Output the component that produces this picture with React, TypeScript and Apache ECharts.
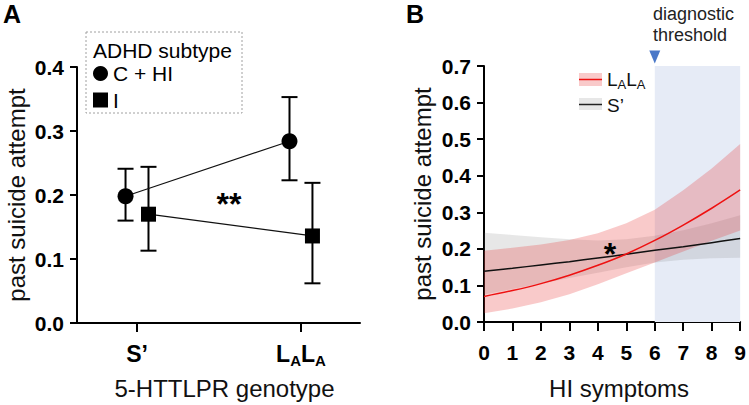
import React, { useEffect, useRef } from "react";
import * as echarts from "echarts";

// ---------- Panel A data ----------
const genotypes = ["S’", "LALA"];
const subtypes = ["C + HI", "I"];
const combinedMean = [0.198, 0.284];
const combinedLow = [0.16, 0.223];
const combinedHigh = [0.241, 0.353];
const inattMean = [0.17, 0.136];
const inattLow = [0.113, 0.062];
const inattHigh = [0.244, 0.219];
const yTicksA = [0, 0.1, 0.2, 0.3, 0.4];

// ---------- Panel B data ----------
const hiSymptoms = [0, 1, 2, 3, 4, 5, 6, 7, 8, 9];
const laMean = [0.07, 0.086, 0.105, 0.128, 0.155, 0.186, 0.223, 0.265, 0.311, 0.361];
const laLower = [0.024, 0.037, 0.054, 0.076, 0.103, 0.133, 0.163, 0.193, 0.222, 0.25];
const laUpper = [0.195, 0.203, 0.212, 0.224, 0.243, 0.27, 0.307, 0.36, 0.42, 0.487];
const sMean = [0.139, 0.147, 0.156, 0.165, 0.175, 0.185, 0.196, 0.206, 0.217, 0.228];
const sLower = [0.075, 0.09, 0.105, 0.12, 0.135, 0.15, 0.163, 0.17, 0.174, 0.176];
const sUpper = [0.244, 0.238, 0.232, 0.226, 0.223, 0.226, 0.236, 0.251, 0.27, 0.292];
const diagnosticThreshold = 6;
const yMaxB = 0.7;

const FONT = "'Liberation Sans', Arial, Helvetica, sans-serif";
const dodge = 0.07;
const PINK = "rgba(232,45,45,0.25)";
const GREY = "rgba(110,110,110,0.17)";

const richLabel = (n: string, tag: string) =>
  n === "LALA" ? `{${tag}|L}{s|A}{${tag}|L}{s|A}` : `{${tag}|${n}}`;

export default function App() {
  const ref = useRef<HTMLDivElement>(null);

  useEffect(() => {
    if (!ref.current) return;
    const chart = echarts.init(ref.current, undefined, { renderer: "svg" });

    const axisLine = { show: true, onZero: false, lineStyle: { color: "#000", width: 2 } };
    const tick = (len: number) => ({ show: true, inside: false, length: len, lineStyle: { color: "#000", width: 2 } });
    const tickLabel = {
      color: "#000",
      fontFamily: FONT,
      fontWeight: "bold" as const,
      fontSize: 21,
    };
    const nameStyle = { color: "#111", fontFamily: FONT, fontSize: 24 };

    const errData = (xs: number[], lo: number[], hi: number[]) =>
      xs.map((x, i) => [x, lo[i], hi[i]]);

    const renderErr = (params: any, api: any) => {
      const x = api.value(0);
      const top = api.coord([x, api.value(2)]);
      const bot = api.coord([x, api.value(1)]);
      const cap = 8;
      const st = { stroke: "#000", lineWidth: 2 };
      return {
        type: "group",
        children: [
          { type: "line", shape: { x1: top[0], y1: top[1], x2: bot[0], y2: bot[1] }, style: st },
          { type: "line", shape: { x1: top[0] - cap, y1: top[1], x2: top[0] + cap, y2: top[1] }, style: st },
          { type: "line", shape: { x1: bot[0] - cap, y1: bot[1], x2: bot[0] + cap, y2: bot[1] }, style: st },
        ],
      };
    };

    const renderBand = (lower: number[], upper: number[], fill: string) => (params: any, api: any) => {
      if (params.dataIndex !== 0) return null;
      const top = hiSymptoms.map((x, i) => api.coord([x, upper[i]]));
      const bot = hiSymptoms.map((x, i) => api.coord([x, lower[i]])).reverse();
      return { type: "polygon", shape: { points: top.concat(bot) }, style: { fill } };
    };

    const genoIdx = genotypes.map((_, i) => i);
    const xC = genoIdx.map((i) => i - dodge);
    const xI = genoIdx.map((i) => i + dodge);

    const option: any = {
      animation: false,
      textStyle: { fontFamily: FONT },
      grid: [
        { left: 77, top: 67, width: 283, height: 258 },
        { left: 484, top: 66, width: 259, height: 258 },
      ],
      legend: [
        {
          orient: "vertical",
          left: 93,
          top: 63,
          padding: 0,
          itemWidth: 15,
          itemHeight: 15,
          itemGap: 5.5,
          itemStyle: { borderWidth: 0 },
          textStyle: { fontSize: 21, color: "#000", fontFamily: FONT },
          data: [
            { name: subtypes[0], icon: "circle" },
            { name: subtypes[1], icon: "rect" },
          ],
          selectedMode: false,
        },
      ],
      xAxis: [
        {
          gridIndex: 0,
          type: "value",
          min: -0.366,
          max: 1.36,
          axisLine,
          axisTick: { ...tick(9), customValues: genoIdx },
          axisLabel: {
            customValues: genoIdx,
            margin: 17,
            formatter: (v: number) => richLabel(genotypes[Math.round(v)], "b"),
            rich: {
              b: { ...tickLabel, fontSize: 23, lineHeight: 28 },
              s: { ...tickLabel, fontSize: 15, lineHeight: 15, padding: [13, 0, 0, 0] },
            },
          },
          splitLine: { show: false },
          name: "5-HTTLPR genotype",
          nameLocation: "middle",
          nameGap: 53,
          nameTextStyle: { ...nameStyle, padding: [0, 0, 0, 12] },
        },
        {
          gridIndex: 1,
          type: "value",
          min: 0,
          max: 9,
          interval: 1,
          axisLine,
          axisTick: tick(9),
          axisLabel: { ...tickLabel, margin: 20 },
          splitLine: { show: false },
          name: "HI symptoms",
          nameLocation: "middle",
          nameGap: 54,
          nameTextStyle: { ...nameStyle, padding: [0, 0, 0, 14] },
        },
      ],
      yAxis: [
        {
          gridIndex: 0,
          type: "value",
          min: yTicksA[0],
          max: yTicksA[yTicksA.length - 1],
          interval: 0.1,
          axisLine,
          axisTick: tick(7),
          axisLabel: { ...tickLabel, margin: 13, formatter: (v: number) => v.toFixed(1) },
          splitLine: { show: false },
          name: "past suicide attempt",
          nameLocation: "middle",
          nameGap: 49,
          nameRotate: 90,
          nameTextStyle: nameStyle,
        },
        {
          gridIndex: 1,
          type: "value",
          min: 0,
          max: yMaxB,
          interval: 0.1,
          axisLine,
          axisTick: tick(7),
          axisLabel: { ...tickLabel, margin: 13, formatter: (v: number) => v.toFixed(1) },
          splitLine: { show: false },
          name: "past suicide attempt",
          nameLocation: "middle",
          nameGap: 50,
          nameRotate: 90,
          nameTextStyle: nameStyle,
        },
      ],
      series: [
        // ---- Panel A ----
        {
          type: "custom",
          name: "errC",
          xAxisIndex: 0,
          yAxisIndex: 0,
          z: 2,
          renderItem: renderErr,
          data: errData(xC, combinedLow, combinedHigh),
          silent: true,
        },
        {
          type: "custom",
          name: "errI",
          xAxisIndex: 0,
          yAxisIndex: 0,
          z: 2,
          renderItem: renderErr,
          data: errData(xI, inattLow, inattHigh),
          silent: true,
        },
        {
          type: "line",
          name: subtypes[0],
          xAxisIndex: 0,
          yAxisIndex: 0,
          z: 3,
          symbol: "circle",
          symbolSize: 16,
          itemStyle: { color: "#000" },
          lineStyle: { color: "#111", width: 1.2 },
          data: xC.map((x, i) => [x, combinedMean[i]]),
        },
        {
          type: "line",
          name: subtypes[1],
          xAxisIndex: 0,
          yAxisIndex: 0,
          z: 3,
          symbol: "rect",
          symbolSize: 15,
          itemStyle: { color: "#000" },
          lineStyle: { color: "#111", width: 1.2 },
          data: xI.map((x, i) => [x, inattMean[i]]),
        },
        // ---- Panel B ----
        {
          type: "line",
          name: "threshold",
          xAxisIndex: 1,
          yAxisIndex: 1,
          z: 0,
          data: [],
          silent: true,
          markArea: {
            silent: true,
            itemStyle: { color: "#e6ebf6" },
            data: [[{ xAxis: diagnosticThreshold, yAxis: 0 }, { xAxis: hiSymptoms[hiSymptoms.length - 1], yAxis: yMaxB }]],
          },
          markPoint: {
            silent: true,
            data: [
              {
                coord: [diagnosticThreshold, yMaxB],
                symbol: "triangle",
                symbolRotate: 180,
                symbolSize: [11, 13],
                symbolOffset: [0, -9],
                itemStyle: { color: "#4a78c8" },
                label: { show: false },
              },
            ],
          },
        },
        {
          type: "custom",
          name: "S’ band",
          xAxisIndex: 1,
          yAxisIndex: 1,
          z: 1,
          silent: true,
          renderItem: renderBand(sLower, sUpper, GREY),
          encode: { x: 0, y: [1, 2] },
          data: hiSymptoms.map((x, i) => [x, sLower[i], sUpper[i]]),
        },
        {
          type: "custom",
          name: "LALA band",
          xAxisIndex: 1,
          yAxisIndex: 1,
          z: 1,
          silent: true,
          renderItem: renderBand(laLower, laUpper, PINK),
          encode: { x: 0, y: [1, 2] },
          data: hiSymptoms.map((x, i) => [x, laLower[i], laUpper[i]]),
        },
        {
          type: "line",
          name: "S’",
          xAxisIndex: 1,
          yAxisIndex: 1,
          z: 3,
          symbol: "none",
          smooth: 0.4,
          lineStyle: { color: "#111", width: 1.5 },
          data: hiSymptoms.map((x, i) => [x, sMean[i]]),
        },
        {
          type: "line",
          name: "LALA",
          xAxisIndex: 1,
          yAxisIndex: 1,
          z: 4,
          symbol: "none",
          smooth: 0.4,
          lineStyle: { color: "#ee1111", width: 1.5 },
          data: hiSymptoms.map((x, i) => [x, laMean[i]]),
        },
      ],
      graphic: [
        { type: "text", x: 3, y: 14, style: { text: "A", fontFamily: FONT, fontWeight: "bold", fontSize: 25, fill: "#000", verticalAlign: "middle" } },
        { type: "text", x: 406, y: 14, style: { text: "B", fontFamily: FONT, fontWeight: "bold", fontSize: 25, fill: "#000", verticalAlign: "middle" } },
        {
          type: "rect",
          shape: { x: 86, y: 32, width: 156, height: 81 },
          style: { fill: "none", stroke: "#a0a0a0", lineWidth: 1, lineDash: [2, 2] },
        },
        { type: "text", x: 93, y: 50, style: { text: "ADHD subtype", fontFamily: FONT, fontSize: 21, fill: "#000", verticalAlign: "middle" } },
        { type: "text", x: 229, y: 204, style: { text: "**", fontFamily: FONT, fontWeight: "bold", fontSize: 32, fill: "#000", align: "center", verticalAlign: "middle" } },
        { type: "text", x: 610, y: 254, z: 10, style: { text: "*", fontFamily: FONT, fontWeight: "bold", fontSize: 32, fill: "#000", align: "center", verticalAlign: "middle" } },
        {
          type: "text",
          x: 653,
          y: 3.5,
          style: { text: "diagnostic\nthreshold", fontFamily: FONT, fontSize: 18, lineHeight: 21, fill: "#222", verticalAlign: "top" },
        },
        // Panel B legend
        { type: "rect", shape: { x: 579, y: 73, width: 23, height: 13 }, style: { fill: PINK } },
        { type: "line", shape: { x1: 579, y1: 79.5, x2: 602, y2: 79.5 }, style: { stroke: "#ee1111", lineWidth: 1.5 } },
        {
          type: "text",
          x: 607,
          y: 79.5,
          style: {
            text: richLabel("LALA", "n"),
            verticalAlign: "middle",
            rich: {
              n: { fontFamily: FONT, fontSize: 19, lineHeight: 22, fill: "#111" },
              s: { fontFamily: FONT, fontSize: 13, lineHeight: 13, padding: [10, 0, 0, 0], fill: "#111" },
            },
          },
        },
        { type: "rect", shape: { x: 579, y: 98, width: 23, height: 12 }, style: { fill: GREY } },
        { type: "line", shape: { x1: 579, y1: 104.5, x2: 602, y2: 104.5 }, style: { stroke: "#222", lineWidth: 1.5 } },
        { type: "text", x: 607, y: 105, style: { text: "S’", fontFamily: FONT, fontSize: 19, fill: "#111", verticalAlign: "middle" } },
      ],
    };

    chart.setOption(option);
    return () => chart.dispose();
  }, []);

  return <div ref={ref} style={{ width: 749, height: 405, position: "absolute", left: 0, top: 0 }} />;
}
